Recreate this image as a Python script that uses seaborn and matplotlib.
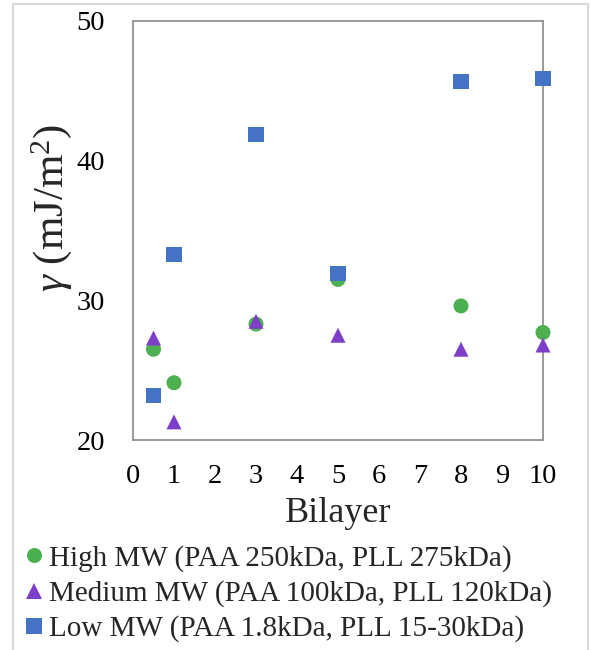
import pandas as pd
import numpy as np
import matplotlib
matplotlib.use("Agg")
import matplotlib.pyplot as plt
import seaborn as sns
from matplotlib.patches import Rectangle

# ---- data ----
bilayer = [0.5, 1, 3, 5, 8, 10]
high_mw = [26.5, 24.1, 28.3, 31.5, 29.6, 27.7]
medium_mw = [27.3, 21.3, 28.5, 27.5, 26.5, 26.8]
low_mw = [23.2, 33.3, 41.9, 31.9, 45.7, 45.9]

series_names = [
    "High MW (PAA 250kDa, PLL 275kDa)",
    "Medium MW (PAA 100kDa, PLL 120kDa)",
    "Low MW (PAA 1.8kDa, PLL 15-30kDa)",
]
x_ticks = list(range(0, 11))
y_ticks = [20, 30, 40, 50]

# long-form table for seaborn
df = pd.concat([
    pd.DataFrame({"Bilayer": bilayer, "gamma": vals, "series": name})
    for name, vals in zip(series_names, [high_mw, medium_mw, low_mw])
], ignore_index=True)

# ---- style ----
sns.set_theme(style="white")
plt.rcParams["font.family"] = ["Liberation Serif", "DejaVu Serif"]
plt.rcParams["mathtext.fontset"] = "custom"
plt.rcParams["mathtext.rm"] = "Liberation Serif"
plt.rcParams["mathtext.it"] = "Liberation Serif:italic"

palette = dict(zip(series_names, ["#4CAF50", "#7E3FC8", "#4472C4"]))
markers = dict(zip(series_names, ["o", "^", "s"]))

fig = plt.figure(figsize=(5.9, 6.5), dpi=100)
ax = fig.add_axes([133 / 590, 1 - 440 / 650, 410 / 590, 419 / 650])

sns.scatterplot(data=df, x="Bilayer", y="gamma", hue="series", style="series",
                palette=palette, markers=markers, s=117, linewidth=0,
                ax=ax, legend=True, clip_on=False, zorder=3)

ax.set_xlim(0, 10)
ax.set_ylim(20, 50)
ax.set_xticks(x_ticks)
ax.set_yticks(y_ticks)
ax.tick_params(axis="both", length=0, labelsize=20.5, colors="black")
ax.tick_params(axis="y", pad=20)
ax.tick_params(axis="x", pad=17)

for sp in ax.spines.values():
    sp.set_color("#898989")
    sp.set_linewidth(1.2)

ax.set_xlabel("Bilayer", fontsize=26, labelpad=6)
ax.set_ylabel(r"$\gamma$ (mJ/m$^2$)", fontsize=31)
ax.yaxis.set_label_coords(-0.145, 0.555)

# legend under the plot
handles, labels = ax.get_legend_handles_labels()
ax.get_legend().remove()
leg = fig.legend(handles, labels, loc="upper left",
                 bbox_to_anchor=(21 / 590, 1 - 545 / 650),
                 frameon=False, fontsize=21, handletextpad=0.05,
                 labelspacing=0.28, handlelength=0.9, borderaxespad=0,
                 borderpad=0, markerscale=1.0)

# light outer frame
fig.patches.append(Rectangle((13 / 590, -0.02), 575 / 590, 1.02 - 4 / 650,
                             transform=fig.transFigure, fill=False,
                             edgecolor="#d9d9d9", linewidth=1.5))

fig.savefig("out.png", dpi=100)
